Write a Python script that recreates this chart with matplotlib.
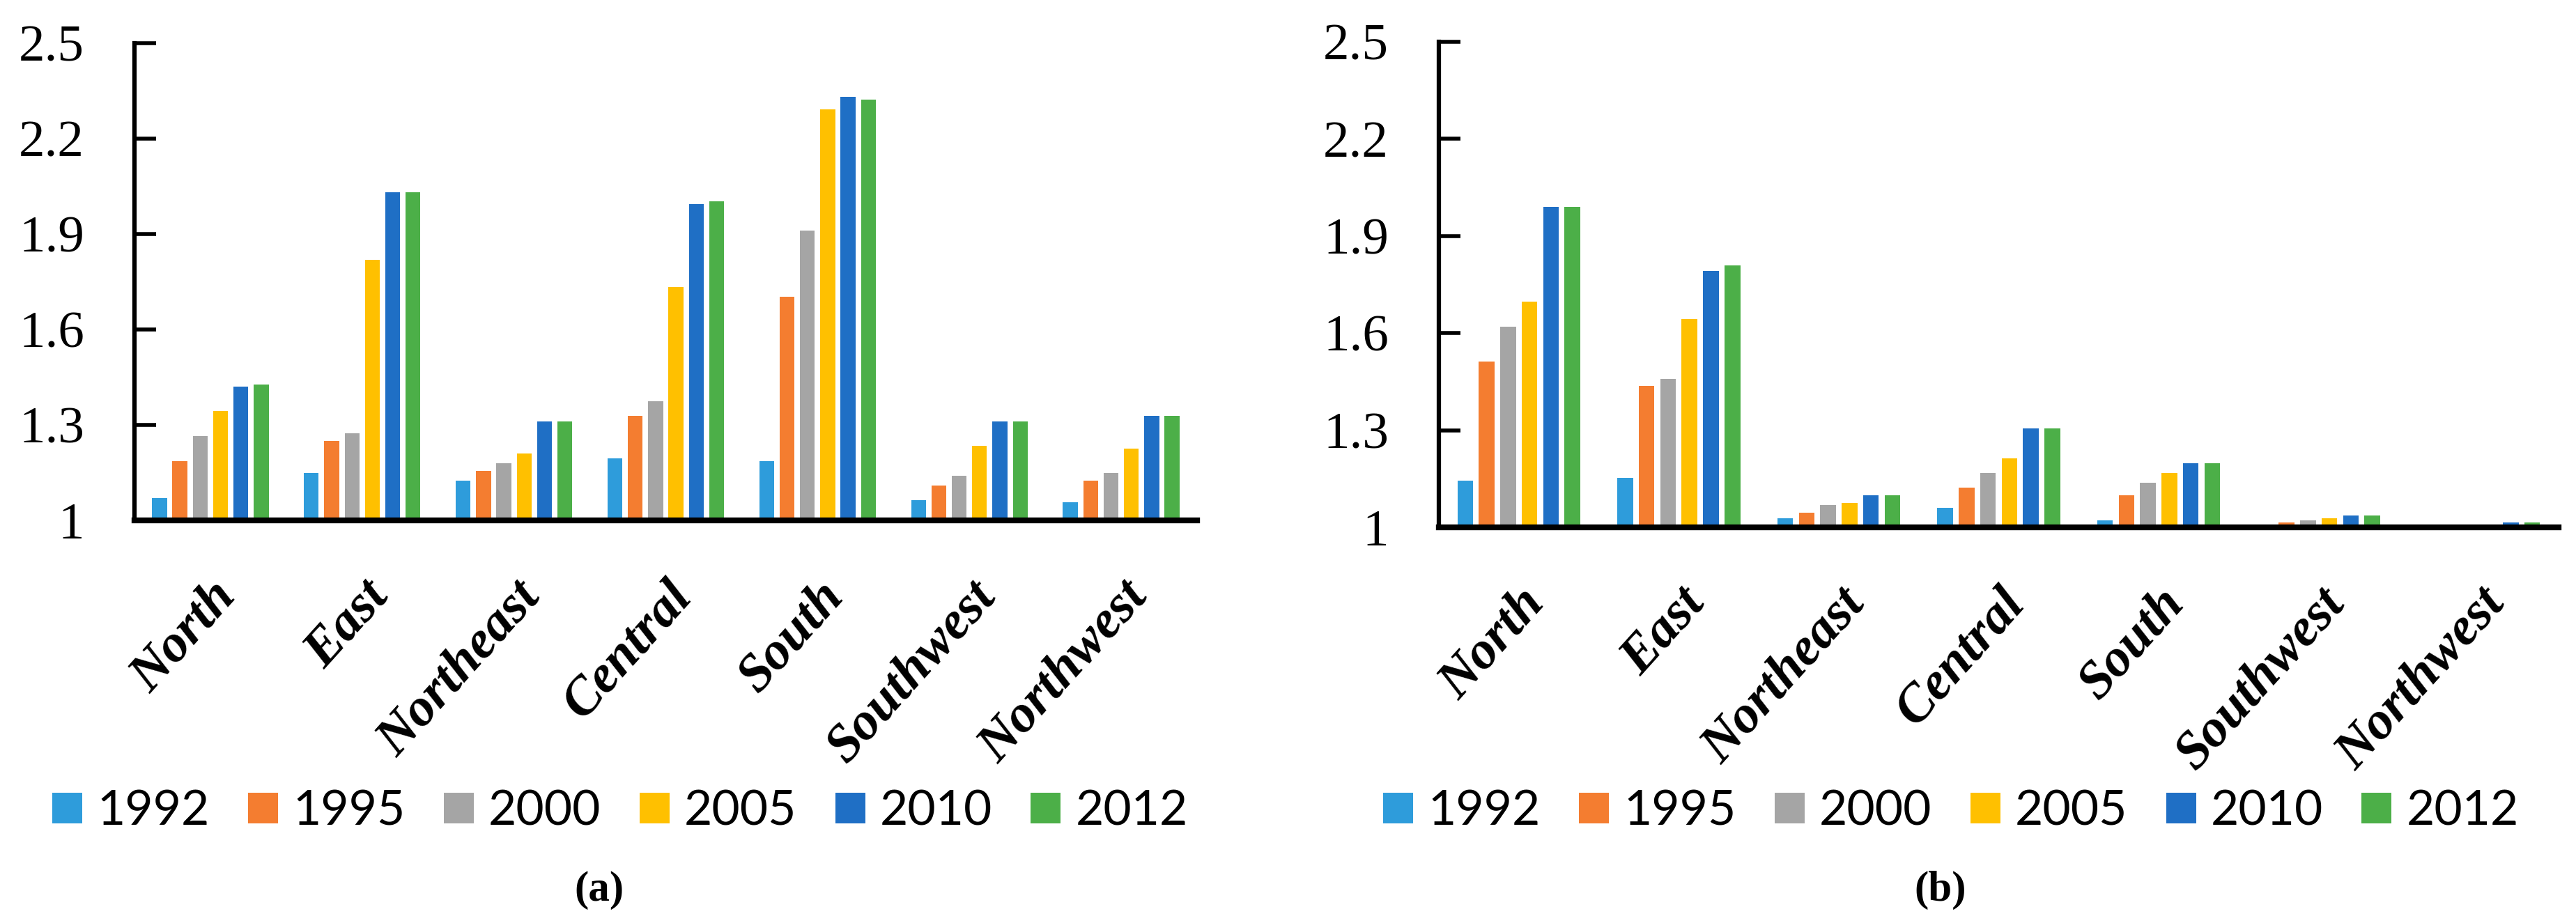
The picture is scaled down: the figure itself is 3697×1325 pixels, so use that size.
import numpy as np
import matplotlib
matplotlib.use('Agg')
import matplotlib.pyplot as plt
from matplotlib.ticker import FixedLocator

# regions and years
regions = ['North', 'East', 'Northeast', 'Central', 'South', 'Southwest', 'Northwest']
years = ['1992', '1995', '2000', '2005', '2010', '2012']
colors = ['#2E9CDB', '#F47D30', '#A5A5A5', '#FFC000', '#1F6FC5', '#4CAF48']

# panel (a) values, one list per year (order of regions)
a_1992 = [1.07, 1.148, 1.125, 1.195, 1.187, 1.063, 1.056]
a_1995 = [1.187, 1.249, 1.156, 1.328, 1.703, 1.110, 1.125]
a_2000 = [1.266, 1.273, 1.180, 1.374, 1.911, 1.141, 1.148]
a_2005 = [1.343, 1.819, 1.211, 1.733, 2.292, 1.234, 1.226]
a_2010 = [1.421, 2.031, 1.312, 1.994, 2.331, 1.312, 1.328]
a_2012 = [1.428, 2.031, 1.312, 2.003, 2.322, 1.312, 1.328]

# panel (b) values
b_1992 = [1.145, 1.152, 1.029, 1.060, 1.022, 1.0, 1.0]
b_1995 = [1.512, 1.436, 1.045, 1.122, 1.099, 1.015, 1.0]
b_2000 = [1.620, 1.459, 1.068, 1.168, 1.137, 1.022, 1.007]
b_2005 = [1.697, 1.643, 1.075, 1.214, 1.168, 1.029, 1.007]
b_2010 = [1.989, 1.793, 1.099, 1.305, 1.198, 1.037, 1.015]
b_2012 = [1.989, 1.810, 1.099, 1.305, 1.198, 1.037, 1.015]

yticks = [1, 1.3, 1.6, 1.9, 2.2, 2.5]
ytick_labels = ['1', '1.3', '1.6', '1.9', '2.2', '2.5']

serif = 'Liberation Serif'
sans = 'Lato'

W, H = 3697, 1325
fig = plt.figure(figsize=(W / 100, H / 100), dpi=100)


def draw_panel(ax, series, tag, legend_x, tag_x):
    x = np.arange(len(regions))
    step = 0.134
    width = 0.098
    base = 1.0
    for i, vals in enumerate(series):
        heights = np.array(vals) - base
        ax.bar(x + (i - 2.5) * step, heights, width, bottom=base,
               color=colors[i], label=years[i], linewidth=0)
    ax.set_xlim(-0.5, len(regions) - 0.5)
    ax.set_ylim(1, 2.5)
    ax.yaxis.set_major_locator(FixedLocator(yticks))
    ax.set_yticklabels(ytick_labels, fontfamily=serif, fontsize=54)
    ax.tick_params(axis='y', direction='in', length=22, width=4, pad=52)
    ax.set_xticks(x)
    ax.set_xticklabels(regions, rotation=48, ha='right', rotation_mode='anchor',
                       fontfamily=serif, fontstyle='italic', fontweight='bold',
                       fontsize=55)
    ax.tick_params(axis='x', length=0, pad=54)
    for s in ['top', 'right']:
        ax.spines[s].set_visible(False)
    ax.spines['left'].set_linewidth(4.5)
    ax.spines['bottom'].set_linewidth(6)
    ax.spines['bottom'].set_zorder(5)

    ax.legend(loc='center', bbox_to_anchor=(legend_x, 1 - 1165 / H),
              bbox_transform=fig.transFigure, ncol=6, frameon=False,
              prop={'family': sans, 'size': 50},
              handlelength=0.62, handleheight=0.6, handletextpad=0.3,
              columnspacing=0.8, borderpad=0)
    fig.text(tag_x, 1 - 1278 / H, tag, ha='center', va='center',
             fontfamily=serif, fontweight='bold', fontsize=44)


ax1 = fig.add_axes([193 / W, 1 - 747 / H, (1718 - 193) / W, (747 - 62) / H])
draw_panel(ax1, [a_1992, a_1995, a_2000, a_2005, a_2010, a_2012], '(a)',
           890 / W, 860 / W)

ax2 = fig.add_axes([2065 / W, 1 - 757 / H, (3672 - 2065) / W, (757 - 60) / H])
draw_panel(ax2, [b_1992, b_1995, b_2000, b_2005, b_2010, b_2012], '(b)',
           2800 / W, 2785 / W)

fig.savefig('out.png', dpi=100, facecolor='white')
